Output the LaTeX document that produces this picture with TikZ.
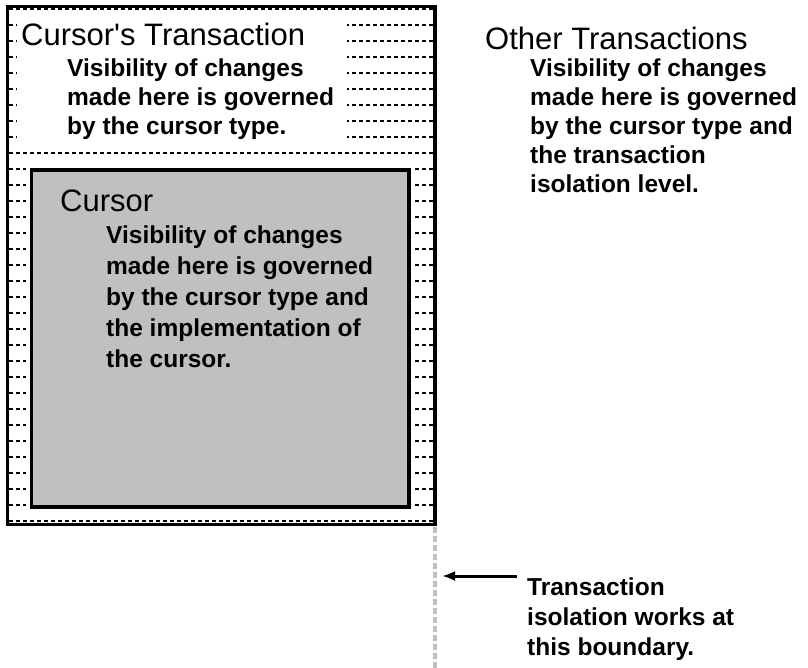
\documentclass[tikz,border=0pt]{standalone}
\usepackage{fontspec}
\setmainfont{Liberation Sans}[Ligatures=TeXOff]
\usetikzlibrary{arrows.meta}
\definecolor{boxgray}{RGB}{192,192,192}
\begin{document}
\begin{tikzpicture}[x=1pt, y=-1pt, >={Latex[length=13pt, width=10pt]},
  head/.style={anchor=base west, inner sep=0pt, font=\fontsize{31}{36}\selectfont},
  body/.style={anchor=base west, inner sep=0pt, align=left, font=\fontsize{24.5}{#1}\selectfont\bfseries},
  body/.default=30,
  pat/.style={line width=1.4pt, dash pattern=on 4pt off 3pt}]
\useasboundingbox (0,0) rectangle (808,668);
% dotted ground of the transaction box
\foreach \y in {0,1,...,32}
{
	\draw[pat] (9,9+16*\y)--(433,9+16*\y);
}
\fill[white] (17,16) rectangle (347,147);
\fill[white] (26,162) rectangle (414,514);
\draw[line width=3.5pt] (7.5,6.5) rectangle (435,524.5);
\draw[line width=3.5pt, fill=boxgray] (31.5,170) rectangle (409,507);

% base of a text block = baseline of its last line
\node (CT)[head] at (21,46) {Cursor's Transaction};
\node (CTtext)[body=29] at (67,135) {Visibility of changes\\made here is governed\\by the cursor type.};
\node (C)[head] at (60,212) {Cursor};
\node (Ctext)[body=31] at (106,367) {Visibility of changes\\made here is governed\\by the cursor type and\\the implementation of\\the cursor.};
\node (OT)[head] at (485,50) {Other Transactions};
\node (OTtext)[body=29] at (530,193) {Visibility of changes\\made here is governed\\by the cursor type and\\the transaction\\isolation level.};
\node (N)[body] at (527,655) {Transaction\\isolation works at\\this boundary.};

% transaction boundary
\coordinate (B1) at (435,527);
\coordinate (B2) at (435,668);
\draw[boxgray, line width=3.5pt, dash pattern=on 6pt off 3pt](B1)--(B2);
\coordinate (tail) at (517,576);
\coordinate (tip) at (442,576);
\draw[line width=3pt, ->](tail)--(tip);
\end{tikzpicture}
\end{document}
